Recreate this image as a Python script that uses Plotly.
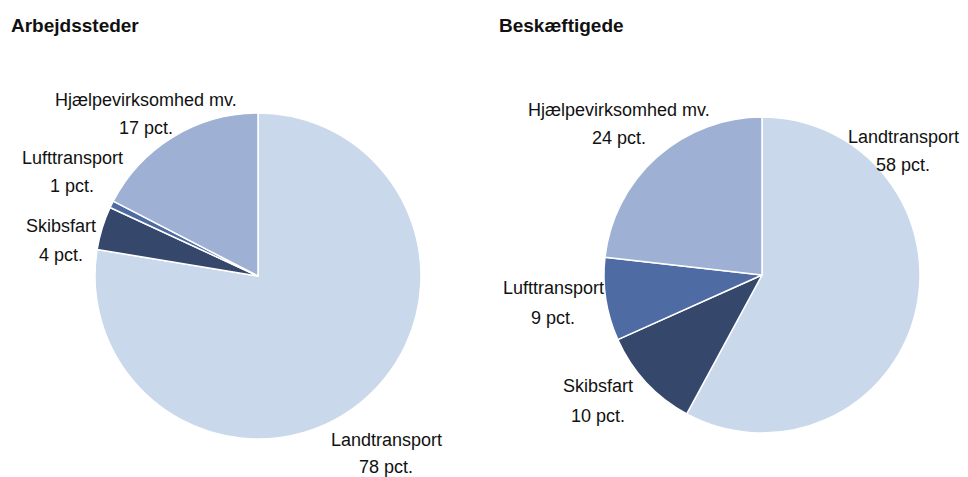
import plotly.graph_objects as go

W, H = 968, 477
OFF = 8  # page body margin offset
FW, FH = W - OFF, H - OFF  # figure size that fits the window

categories = ["Landtransport", "Skibsfart", "Lufttransport", "Hjælpevirksomhed mv."]
arbejdssteder = [77.6, 4.3, 0.7, 17.4]
beskaeftigede = [57.9, 10.4, 8.5, 23.2]
labels_arb = ["78 pct.", "4 pct.", "1 pct.", "17 pct."]
labels_besk = ["58 pct.", "10 pct.", "9 pct.", "24 pct."]
titles = ["Arbejdssteder", "Beskæftigede"]

colors = ["#c9d8eb", "#35486b", "#4e6ca3", "#9eb1d4"]

def px_x(x):
    return (x - OFF) / FW

def px_y(y):
    return 1 - (y - OFF) / FH

fig = go.Figure()

# pie boxes in pixels (left, top, right, bottom)
boxes = [(95, 113, 421, 439), (604, 117, 920, 433)]
for vals, box in zip([arbejdssteder, beskaeftigede], boxes):
    l, t, r, b = box
    fig.add_trace(go.Pie(
        labels=categories, values=vals, sort=False, direction="clockwise",
        rotation=0, textinfo="none", hoverinfo="label+value",
        marker=dict(colors=colors, line=dict(color="white", width=1.5)),
        domain=dict(x=[px_x(l), px_x(r)], y=[px_y(b), px_y(t)]),
        showlegend=False,
    ))

# label positions (pixels): centre x, line-1 y, line-2 y
pos_arb = [(386, 440, 467), (61, 226, 255), (72, 158, 186), (146, 100, 128)]
pos_besk = [(903, 137, 165), (598, 386, 416), (553, 288, 318), (619, 110, 138)]

font = dict(family="Liberation Sans, Arial, sans-serif", size=18, color="#111111")
annotations = []
for cats, labs, poss in [(categories, labels_arb, pos_arb), (categories, labels_besk, pos_besk)]:
    for c, lab, (x, y1, y2) in zip(cats, labs, poss):
        for txt, y in [(c, y1), (lab, y2)]:
            annotations.append(dict(
                text=txt, x=px_x(x), y=px_y(y), xref="paper", yref="paper",
                xanchor="center", yanchor="middle", align="center", showarrow=False,
                font=font,
            ))

for t, x in zip(titles, [9, 497]):
    annotations.append(dict(
        text=f"<b>{t}</b>", x=px_x(x), y=px_y(26), xref="paper", yref="paper",
        xanchor="left", yanchor="middle", showarrow=False,
        font=dict(family="Liberation Sans, Arial, sans-serif", size=19, color="#111111"),
    ))

fig.update_layout(
    width=FW, height=FH, margin=dict(l=0, r=0, t=0, b=0),
    paper_bgcolor="white", plot_bgcolor="white",
    annotations=annotations,
)

fig.write_html("out.html")
